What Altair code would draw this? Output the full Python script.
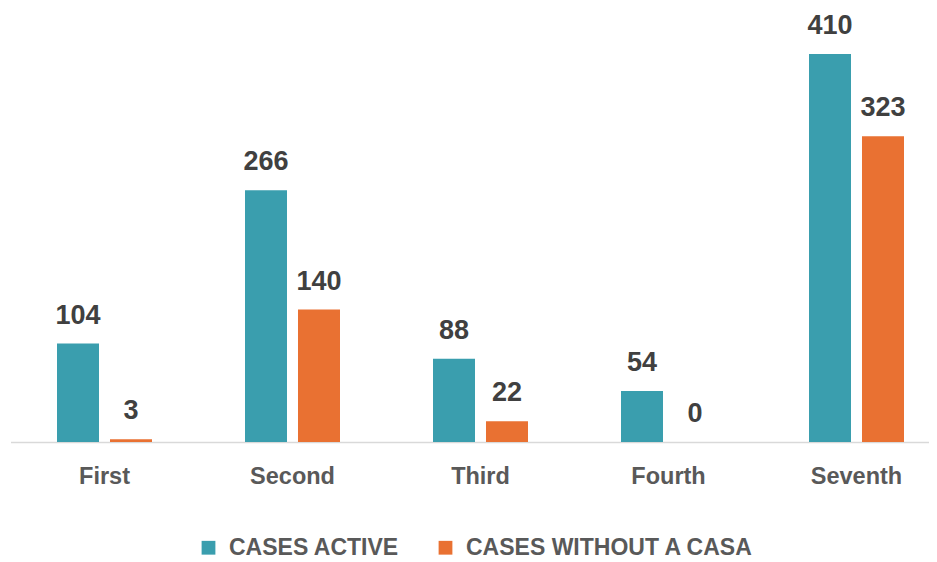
import altair as alt
import pandas as pd

categories = ["First", "Second", "Third", "Fourth", "Seventh"]
series_names = ["CASES ACTIVE", "CASES WITHOUT A CASA"]
cases_active = [104, 266, 88, 54, 410]
cases_without_casa = [3, 140, 22, 0, 323]
colors = ["#3A9EAE", "#E97132"]

rows = []
for c, a, w in zip(categories, cases_active, cases_without_casa):
    rows.append({"cat": c, "series": series_names[0], "value": a})
    rows.append({"cat": c, "series": series_names[1], "value": w})
df = pd.DataFrame(rows)

FONT = "Liberation Sans"

x = alt.X("cat:N", sort=categories, title=None,
          scale=alt.Scale(range=[2.5, 942.5], paddingInner=0, paddingOuter=0),
          axis=alt.Axis(labelAngle=0, labelFont=FONT, labelFontSize=23.5, labelFontWeight="bold",
                        labelColor="#595959", ticks=False, labelPadding=22,
                        domainColor="#D9D9D9", domainWidth=1.5))
xo = alt.XOffset("series:N", sort=series_names,
                 scale=alt.Scale(range=[46.5, 141.5], paddingInner=0.2075, paddingOuter=0))
y = alt.Y("value:Q", scale=alt.Scale(domain=[0, 458.6], nice=False), axis=None)

bars = alt.Chart(df).mark_bar().encode(
    x=x, xOffset=xo, y=y,
    color=alt.Color("series:N", sort=series_names,
                    scale=alt.Scale(domain=series_names, range=colors),
                    legend=alt.Legend(title=None, orient="none", legendX=189, legendY=528,
                                      direction="horizontal", symbolType="square", symbolSize=190,
                                      symbolStrokeWidth=0, labelFont=FONT, labelFontSize=23,
                                      labelFontWeight="bold", labelColor="#595959",
                                      labelLimit=500, labelOffset=9, columnPadding=35)),
)

labels = alt.Chart(df).mark_text(font=FONT, fontSize=27, fontWeight="bold", color="#404040",
                                 baseline="alphabetic", dy=-20).encode(
    x=x, xOffset=xo, y=y, text=alt.Text("value:Q"),
)

chart = alt.layer(bars, labels).properties(
    width=921, height=434,
    autosize=alt.AutoSizeParams(type="none"),
    padding={"left": 0, "top": 0, "right": 0, "bottom": 120},
).configure_view(stroke=None)

chart.save("out.html", embed_options={"renderer": "svg", "actions": False})
